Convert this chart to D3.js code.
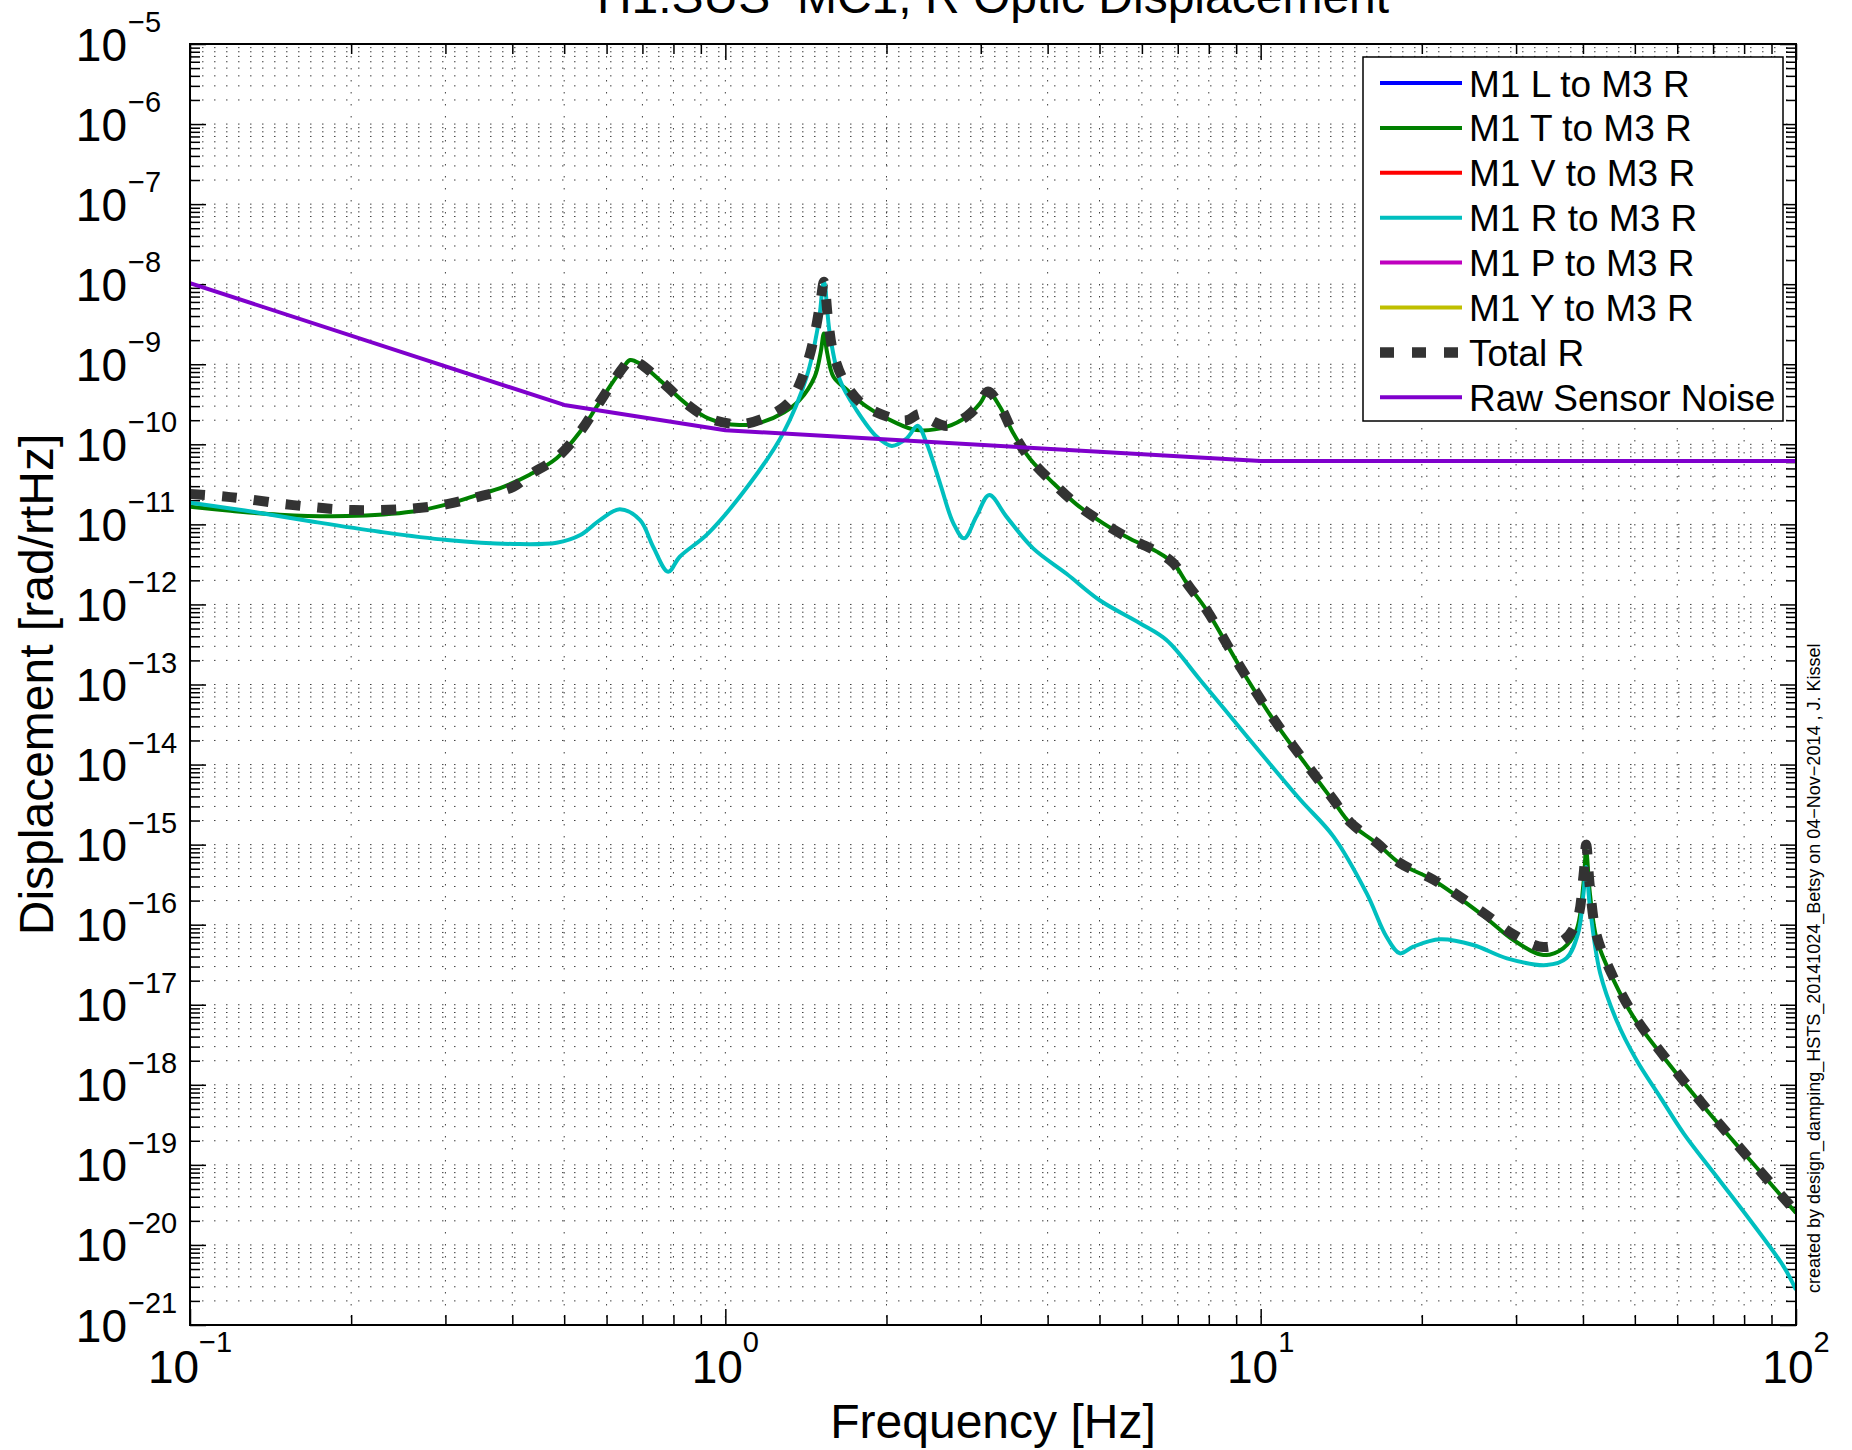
<!DOCTYPE html>
<html><head><meta charset="utf-8">
<script src="https://cdn.jsdelivr.net/npm/d3@7"></script>
<style>body{margin:0;background:#fff}text{font-family:"Liberation Sans",Arial,Helvetica,sans-serif;fill:#000}</style>
</head><body>
<svg id="c" width="1852" height="1450"></svg>
<script>
// ---------------- data ----------------
const seriesNames = ["M1 L to M3 R","M1 T to M3 R","M1 V to M3 R","M1 R to M3 R","M1 P to M3 R","M1 Y to M3 R","Total R","Raw Sensor Noise"];

const lFreq = [], lVal = [];
const vFreq = [], vVal = [];
const pFreq = [], pVal = [];
const yawFreq = [], yawVal = [];

const tFreq = [0.1,0.119,0.147,0.196,0.261,0.302,0.338,0.385,0.431,0.484,0.536,0.575,0.614,0.646,0.664,0.692,0.766,0.843,0.929,1.062,1.175,1.288,1.377,1.469,1.507,1.528,1.549,1.592,1.687,1.837,2.061,2.275,2.594,2.825,2.992,3.097,3.258,3.451,3.707,4.102,4.529,5.082,5.702,6.397,6.871,7.278,7.925,9.141,10.57,12.36,13.68,14.69,16.48,18.20,20.99,26.06,29.65,33.73,36.73,38.90,40.09,40.55,41.21,42.46,45.60,49.66,57.41,68.08,82.04,100];
const tVal = [1.66e-11,1.48e-11,1.32e-11,1.27e-11,1.45e-11,
  1.78e-11,2.24e-11,2.95e-11,4.17e-11,6.68e-11,
  1.45e-10,2.95e-10,5.75e-10,9.33e-10,1.13e-9,
  1.02e-9,5.78e-10,3.25e-10,2.11e-10,1.74e-10,
  1.91e-10,2.51e-10,3.58e-10,7.0e-10,1.41e-9,
  2.43e-9,1.41e-9,7.0e-10,4.79e-10,2.95e-10,
  1.92e-10,1.51e-10,1.66e-10,2.21e-10,3.25e-10,
  4.55e-10,2.95e-10,1.37e-10,6.61e-11,3.26e-11,
  1.78e-11,1.03e-11,6.61e-12,4.57e-12,3.27e-12,
  1.84e-12,8.51e-13,1.67e-13,3.6e-14,8.55e-15,
  3.47e-15,1.85e-15,1.04e-15,5.83e-16,3.61e-16,
  1.29e-16,6.43e-17,4.18e-17,5.07e-17,8.57e-17,
  3.28e-16,8.51e-16,2.46e-16,6.46e-17,2.04e-17,
  7.1e-18,1.95e-18,4.84e-19,1.15e-19,2.51e-20];

const rFreq = [0.1,0.119,0.137,0.170,0.226,0.302,0.402,0.484,0.536,0.583,0.635,0.693,0.733,0.782,0.822,0.929,1.112,1.282,1.419,1.493,1.528,1.567,1.637,1.758,1.919,2.046,2.183,2.286,2.377,2.518,2.667,2.793,2.944,3.112,3.350,3.758,4.345,5.012,5.957,6.668,7.709,8.892,10.26,11.86,13.68,15.78,17.18,18.20,19.28,21.63,24.95,28.84,34.20,37.24,39.17,40.09,40.55,41.21,43.05,46.24,50.35,55.72,61.66,71.12,82.04,94.84,100];
const rVal = [1.86e-11,1.58e-11,1.37e-11,1.08e-11,8.09e-12,
  6.38e-12,5.69e-12,5.9e-12,7.36e-12,1.13e-11,
  1.54e-11,1.13e-11,5.26e-12,2.56e-12,3.94e-12,
  7.73e-12,3.26e-11,1.37e-10,7.0e-10,3.24e-9,
  1.07e-8,2.43e-9,6.35e-10,2.68e-10,1.24e-10,
  9.55e-11,1.19e-10,1.71e-10,1.03e-10,3.26e-11,
  1.03e-11,6.7e-12,1.25e-11,2.33e-11,1.25e-11,
  5.01e-12,2.4e-12,1.12e-12,5.79e-13,3.59e-13,
  1.14e-13,3.6e-14,1.14e-14,3.63e-15,1.26e-15,
  2.46e-16,7.08e-17,4.39e-17,5.31e-17,6.56e-17,
  5.57e-17,3.8e-17,3.13e-17,3.8e-17,7.8e-17,
  2.46e-16,5.25e-16,1.68e-16,2.51e-17,6.31e-18,
  2.04e-18,7.08e-19,2.48e-19,7.11e-20,2.05e-20,
  5.36e-21,2.75e-21];

const totalFreq = [0.1,0.119,0.156,0.202,0.261,0.302,0.348,0.402,0.431,0.484,0.536,0.575,0.614,0.646,0.664,0.692,0.766,0.843,0.929,1.062,1.175,1.288,1.340,1.419,1.469,1.507,1.528,1.556,1.592,1.675,1.811,2.061,2.183,2.312,2.455,2.594,2.825,2.992,3.097,3.258,3.451,3.707,4.102,4.529,5.082,5.702,6.397,6.871,7.278,7.925,9.141,10.57,12.36,13.68,14.69,16.48,18.20,20.99,26.06,29.65,33.73,36.73,38.90,40.09,40.55,41.21,42.46,45.60,49.66,57.41,68.08,82.04,100];
const totalVal = [2.40e-11,2.19e-11,1.74e-11,1.51e-11,1.58e-11,
  1.79e-11,2.24e-11,2.95e-11,4.17e-11,6.76e-11,
  1.45e-10,2.95e-10,5.75e-10,9.33e-10,1.14e-9,
  1.02e-9,5.79e-10,3.26e-10,2.14e-10,1.78e-10,
  2.09e-10,2.95e-10,3.94e-10,9.8e-10,2.40e-9,
  6.31e-9,1.07e-8,3.57e-9,1.37e-9,5.78e-10,
  3.1e-10,2.1e-10,2.0e-10,2.4e-10,1.91e-10,
  1.70e-10,2.24e-10,3.27e-10,4.57e-10,3.02e-10,
  1.38e-10,6.61e-11,3.26e-11,1.78e-11,1.04e-11,
  6.61e-12,4.57e-12,3.27e-12,1.84e-12,8.51e-13,
  1.70e-13,3.72e-14,8.91e-15,3.63e-15,1.91e-15,
  1.05e-15,5.89e-16,3.67e-16,1.41e-16,7.59e-17,
  5.25e-17,6.31e-17,1.07e-16,4.07e-16,1.0e-15,
  2.95e-16,7.24e-17,2.19e-17,7.59e-18,2.04e-18,
  5.01e-19,1.17e-19,2.57e-20];

const noiseFreq = [0.1,0.5,1,10,100];
const noiseVal = [1.03e-8,3.1e-10,1.5e-10,6.2e-11,6.2e-11];

const xTickExp = [-1,0,1,2];
const yTickExp = [-21,-20,-19,-18,-17,-16,-15,-14,-13,-12,-11,-10,-9,-8,-7,-6,-5];

const titleText = "H1:SUS  MC1, R Optic Displacement";
const xLabelText = "Frequency [Hz]";
const yLabelText = "Displacement [rad/rtHz]";
const creditText = "created by design_damping_HSTS_20141024_Betsy on 04\u2212Nov\u22122014 , J. Kissel";

// ---------------- layout ----------------
const P = {l:190, r:1796, t:44, b:1325};
const svg = d3.select("#c");
const x = d3.scaleLog().domain([0.1,100]).range([P.l,P.r]);
const y = d3.scaleLog().domain([1e-21,1e-5]).range([P.b,P.t]);

const xMajor = xTickExp.map(e => Math.pow(10,e));
const yMajor = yTickExp.map(e => Math.pow(10,e));
const xMinor = [], yMinor = [];
xTickExp.slice(0,-1).forEach(e => { for (let m=2;m<=9;m++) xMinor.push(m*Math.pow(10,e)); });
yTickExp.slice(0,-1).forEach(e => { for (let m=2;m<=9;m++) yMinor.push(m*Math.pow(10,e)); });

svg.append("rect").attr("x",0).attr("y",0).attr("width",1852).attr("height",1450).attr("fill","#fff");

// grid
const grid = svg.append("g").attr("stroke","#000").attr("stroke-width",1)
  .attr("stroke-dasharray","1.5,10.5").attr("opacity",0.75);
grid.selectAll("line.gx").data(xMajor.concat(xMinor)).join("line")
  .attr("x1",d=>x(d)).attr("x2",d=>x(d)).attr("y1",P.t).attr("y2",P.b);
grid.selectAll("line.gy").data(yMajor.concat(yMinor)).join("line")
  .attr("y1",d=>y(d)).attr("y2",d=>y(d)).attr("x1",P.l).attr("x2",P.r);

// axes ticks (inside, four sides)
function tickify(g){ g.select(".domain").remove(); g.selectAll(".tick line").attr("stroke","#000").attr("stroke-width",1.5); g.selectAll(".tick text").remove(); }
const MAJ=16, MIN=10;
svg.append("g").attr("transform",`translate(0,${P.b})`).call(d3.axisBottom(x).tickValues(xMajor).tickSize(-MAJ)).call(tickify);
svg.append("g").attr("transform",`translate(0,${P.b})`).call(d3.axisBottom(x).tickValues(xMinor).tickSize(-MIN)).call(tickify);
svg.append("g").attr("transform",`translate(0,${P.t})`).call(d3.axisTop(x).tickValues(xMajor).tickSize(-MAJ)).call(tickify);
svg.append("g").attr("transform",`translate(0,${P.t})`).call(d3.axisTop(x).tickValues(xMinor).tickSize(-MIN)).call(tickify);
svg.append("g").attr("transform",`translate(${P.l},0)`).call(d3.axisLeft(y).tickValues(yMajor).tickSize(-MAJ)).call(tickify);
svg.append("g").attr("transform",`translate(${P.l},0)`).call(d3.axisLeft(y).tickValues(yMinor).tickSize(-MIN)).call(tickify);
svg.append("g").attr("transform",`translate(${P.r},0)`).call(d3.axisRight(y).tickValues(yMajor).tickSize(-MAJ)).call(tickify);
svg.append("g").attr("transform",`translate(${P.r},0)`).call(d3.axisRight(y).tickValues(yMinor).tickSize(-MIN)).call(tickify);

// curves
svg.append("clipPath").attr("id","clip").append("rect")
  .attr("x",P.l).attr("y",P.t).attr("width",P.r-P.l).attr("height",P.b-P.t);
const plotG = svg.append("g").attr("clip-path","url(#clip)");
const lineSmooth = d3.line().x(d=>x(d[0])).y(d=>y(d[1])).curve(d3.curveCatmullRom.alpha(0.5));
const lineStraight = d3.line().x(d=>x(d[0])).y(d=>y(d[1]));
const zip = (f,v) => f.map((ff,i)=>[ff,v[i]]);

const series = [
  {name:seriesNames[0], f:lFreq, v:lVal, color:"#0000ff", w:4},
  {name:seriesNames[1], f:tFreq, v:tVal, color:"#008000", w:4},
  {name:seriesNames[2], f:vFreq, v:vVal, color:"#ff0000", w:4},
  {name:seriesNames[3], f:rFreq, v:rVal, color:"#00bfbf", w:4},
  {name:seriesNames[4], f:pFreq, v:pVal, color:"#bf00bf", w:4},
  {name:seriesNames[5], f:yawFreq, v:yawVal, color:"#bfbf00", w:4},
  {name:seriesNames[6], f:totalFreq, v:totalVal, color:"#333333", w:10, dash:"15,17"},
  {name:seriesNames[7], f:noiseFreq, v:noiseVal, color:"#7f00cc", w:4, straight:true}
];
series.forEach(s => {
  if (!s.f.length) return;
  plotG.append("path").datum(zip(s.f,s.v))
    .attr("d", s.straight ? lineStraight : lineSmooth)
    .attr("fill","none").attr("stroke",s.color).attr("stroke-width",s.w)
    .attr("stroke-dasharray", s.dash || null).attr("stroke-linejoin","round");
});

// axis box
svg.append("rect").attr("x",P.l).attr("y",P.t).attr("width",P.r-P.l).attr("height",P.b-P.t)
  .attr("fill","none").attr("stroke","#000").attr("stroke-width",2);

// tick labels
const yl = svg.append("g");
yTickExp.forEach(e => {
  const yy = y(Math.pow(10,e));
  yl.append("text").attr("x",127).attr("y",yy+16.5).attr("text-anchor","end").attr("font-size",46).text("10");
  yl.append("text").attr("x",128).attr("y",yy-12).attr("font-size",29).text("\u2212"+(-e));
});
xTickExp.forEach(e => {
  const xx = x(Math.pow(10,e));
  const t = svg.append("text").attr("x",xx).attr("y",1383).attr("text-anchor","middle").attr("font-size",46);
  t.append("tspan").text("10");
  t.append("tspan").attr("dy",-31).attr("font-size",29).text(e<0 ? "\u2212"+(-e) : String(e));
});

// labels
svg.append("text").attr("x",993).attr("y",13).attr("text-anchor","middle").attr("font-size",48)
  .style("white-space","pre").text(titleText);
svg.append("text").attr("x",993).attr("y",1438).attr("text-anchor","middle").attr("font-size",48).text(xLabelText);
svg.append("text").attr("transform","translate(53,684.5) rotate(-90)").attr("text-anchor","middle").attr("font-size",48).text(yLabelText);
svg.append("text").attr("transform","translate(1820,1293) rotate(-90)").attr("font-size",18).text(creditText);

// legend
const L = {x:1363, y:57, w:420, h:364};
const lg = svg.append("g");
lg.append("rect").attr("x",L.x).attr("y",L.y).attr("width",L.w).attr("height",L.h)
  .attr("fill","#fff").attr("stroke","#000").attr("stroke-width",1.5);
series.forEach((s,i) => {
  const cy = 83 + i*44.9;
  lg.append("line").attr("x1",1380).attr("x2",1462).attr("y1",cy).attr("y2",cy)
    .attr("stroke",s.color).attr("stroke-width",s.dash?10.5:4).attr("stroke-dasharray",s.dash?"14,18":null);
  lg.append("text").attr("x",1469).attr("y",cy+13.5).attr("font-size",37).text(s.name);
});
</script>
</body></html>
